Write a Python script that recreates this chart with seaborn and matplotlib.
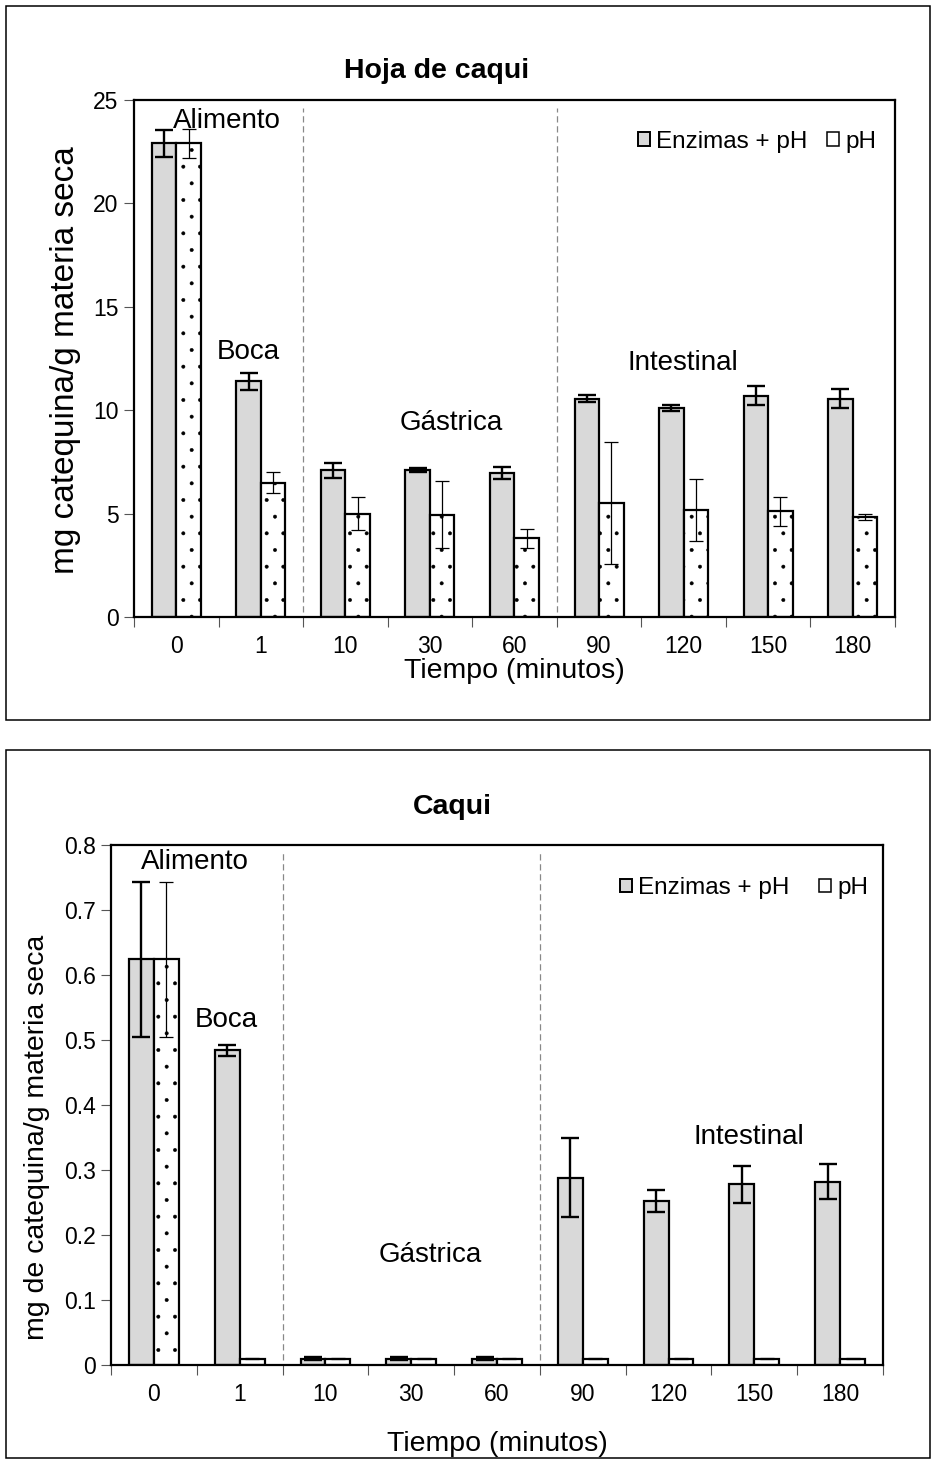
import numpy as np
import pandas as pd
import matplotlib
matplotlib.use("Agg")
import matplotlib.pyplot as plt
from matplotlib.patches import Patch, Rectangle
from matplotlib.ticker import FuncFormatter, FixedLocator
import seaborn as sns

# ---- data -------------------------------------------------------------
times = ["0", "1", "10", "30", "60", "90", "120", "150", "180"]
series_names = ["Enzimas + pH", "pH"]

hoja_enz = [22.9, 11.4, 7.1, 7.1, 6.95, 10.55, 10.1, 10.7, 10.55]
hoja_enz_err = [0.65, 0.42, 0.36, 0.08, 0.28, 0.17, 0.13, 0.45, 0.45]
hoja_ph = [22.9, 6.5, 5.0, 4.95, 3.8, 5.5, 5.15, 5.1, 4.85]
hoja_ph_err = [0.7, 0.52, 0.82, 1.62, 0.45, 2.95, 1.5, 0.68, 0.15]

caqui_enz = [0.624, 0.484, 0.01, 0.01, 0.01, 0.288, 0.252, 0.278, 0.282]
caqui_enz_err = [0.119, 0.008, 0.002, 0.002, 0.002, 0.061, 0.017, 0.028, 0.027]
caqui_ph = [0.624, 0.01, 0.01, 0.01, 0.01, 0.01, 0.01, 0.01, 0.01]
caqui_ph_err = [0.119, 0.001, 0.001, 0.001, 0.001, 0.001, 0.001, 0.001, 0.001]

phases = ["Alimento", "Boca", "Gástrica", "Intestinal"]
hoja_phase_pos = [(0.6, 24.0), (0.85, 12.8), (3.25, 9.4), (5.99, 12.3)]
caqui_phase_pos = [(0.48, 0.774), (0.85, 0.531), (3.22, 0.169), (6.94, 0.351)]

# ---- style ------------------------------------------------------------
sns.set_theme(style="white")
plt.rcParams["font.family"] = ["Liberation Sans", "DejaVu Sans"]
plt.rcParams["text.color"] = "black"
plt.rcParams["axes.labelcolor"] = "black"
plt.rcParams["xtick.labelcolor"] = "black"
plt.rcParams["ytick.labelcolor"] = "black"
plt.rcParams["hatch.color"] = "#444444"
plt.rcParams["hatch.linewidth"] = 0.35

GREY = "#d9d9d9"

fig = plt.figure(figsize=(9.35, 14.64), dpi=100)

# outer frames around each chart
for y0, h in [(0.5082, 0.4877), (0.0041, 0.4836)]:
    fig.add_artist(Rectangle((0.0064, y0), 0.9883, h, transform=fig.transFigure,
                             fill=False, edgecolor="black", linewidth=1.1))


def draw_panel(ax, enz, enz_err, ph, ph_err, ymax, ystep, title, title_x,
               ylabel, ylabel_y, phase_pos, xlabelpad, ylabelpad, ylabelsize,
               titlepad, legend_anchor, colspace):
    df = pd.DataFrame({
        "Tiempo": times * 2,
        "valor": list(enz) + list(ph),
        "serie": [series_names[0]] * len(times) + [series_names[1]] * len(times),
    })
    sns.barplot(data=df, x="Tiempo", y="valor", hue="serie", order=times,
                hue_order=series_names, palette=[GREY, "white"],
                width=0.58, gap=0, errorbar=None, legend=False,
                edgecolor="black", linewidth=1.6, saturation=1, ax=ax)

    enz_bars, ph_bars = ax.containers[0], ax.containers[1]
    for i, p in enumerate(ph_bars):
        if ph[i] > 0.05 * ymax:
            p.set_hatch(".")

    # error bars placed on the centres of the seaborn bars
    xe = [p.get_x() + p.get_width() / 2 for p in enz_bars]
    xp = [p.get_x() + p.get_width() / 2 for p in ph_bars]
    ax.errorbar(xe, enz, yerr=enz_err, fmt="none", ecolor="black",
                elinewidth=1.7, capsize=6.5, capthick=1.7, zorder=5)
    ax.errorbar(xp, ph, yerr=ph_err, fmt="none", ecolor="black",
                elinewidth=0.9, capsize=5, capthick=0.9, zorder=5)

    # phase separators
    for xs in (1.5, 4.5):
        ax.axvline(xs, ymin=0.01, ymax=0.985, color="#888888",
                   linestyle=(0, (5, 3)), linewidth=0.9, zorder=0)

    for name, (px, py) in zip(phases, phase_pos):
        ax.text(px, py, name, ha="center", va="center", fontsize=20,
                color="black", zorder=6)

    ax.set_xlim(-0.5, len(times) - 0.5)
    ax.set_ylim(0, ymax)
    ax.set_yticks(np.arange(0, ymax + ystep / 2, ystep))
    ax.yaxis.set_major_formatter(FuncFormatter(lambda v, _: f"{v:g}"))
    ax.xaxis.set_minor_locator(FixedLocator(np.arange(-0.5, len(times), 1.0)))
    ax.tick_params(axis="x", which="major", length=0, labelsize=16.5, pad=13)
    ax.tick_params(axis="x", which="minor", length=7, width=0.8,
                   color="#555555", direction="out", bottom=True)
    ax.tick_params(axis="y", which="major", length=7, width=0.8,
                   color="#555555", direction="out", left=True,
                   labelsize=16.5, pad=4)

    for s in ax.spines.values():
        s.set_visible(True)
        s.set_color("black")
        s.set_linewidth(1.6)

    ax.set_xlabel("Tiempo (minutos)", fontsize=20.5, labelpad=xlabelpad)
    ax.set_ylabel(ylabel, fontsize=ylabelsize, labelpad=ylabelpad, y=ylabel_y)
    ax.set_title(title, fontsize=20.5, fontweight="bold", pad=titlepad,
                 x=title_x)

    handles = [Patch(facecolor=GREY, edgecolor="black", linewidth=1.4),
               Patch(facecolor="white", edgecolor="black", linewidth=1.1)]
    ax.legend(handles, series_names, loc="center right",
              bbox_to_anchor=legend_anchor, ncol=2, frameon=False,
              fontsize=17.5, handlelength=0.5, handleheight=0.5,
              handletextpad=0.25, columnspacing=colspace,
              borderaxespad=0, borderpad=0)


ax1 = fig.add_axes([0.1433, 0.5786, 0.8139, 0.3531])
draw_panel(ax1, hoja_enz, hoja_enz_err, hoja_ph, hoja_ph_err, 25, 5,
           "Hoja de caqui", 0.397, "mg catequina/g materia seca", 0.497,
           hoja_phase_pos, xlabelpad=0, ylabelpad=9, ylabelsize=24,
           titlepad=16, legend_anchor=(0.975, 0.919), colspace=0.8)

ax2 = fig.add_axes([0.1187, 0.0676, 0.8257, 0.3552])
draw_panel(ax2, caqui_enz, caqui_enz_err, caqui_ph, caqui_ph_err, 0.8, 0.1,
           "Caqui", 0.442, "mg de catequina/g materia seca", 0.438,
           caqui_phase_pos, xlabelpad=18, ylabelpad=10, ylabelsize=20.5,
           titlepad=22, legend_anchor=(0.9806, 0.917), colspace=1.2)

fig.savefig("out.png", dpi=100)
